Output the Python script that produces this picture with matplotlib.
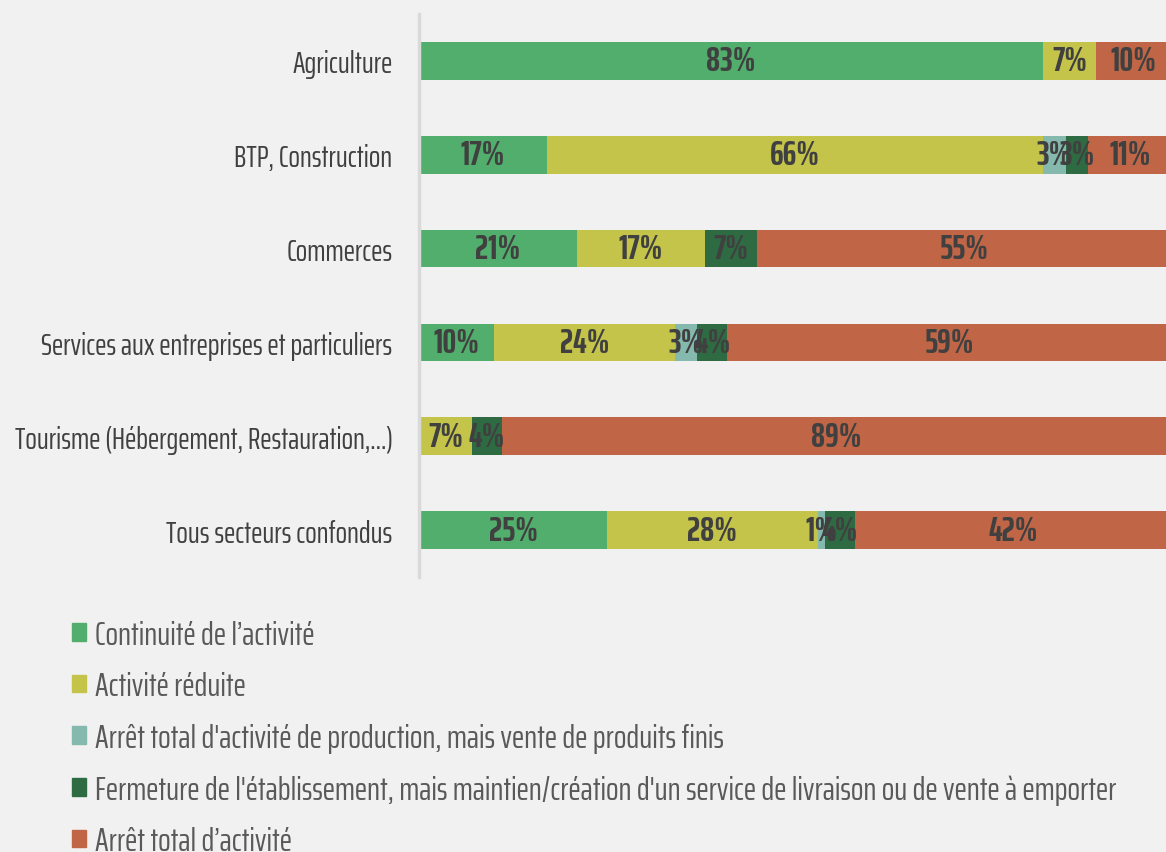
import matplotlib.pyplot as plt
from matplotlib.patches import Patch
from matplotlib import font_manager

# Data
sectors = ['Agriculture', 'BTP, Construction', 'Commerces',
           'Services aux entreprises et particuliers',
           'Tourisme (Hébergement, Restauration,...)',
           'Tous secteurs confondus']
continuite = [83, 17, 21, 10, 0, 25]
reduite = [7, 66, 17, 24, 7, 28]
arret_prod = [0, 3, 0, 3, 0, 1]
fermeture = [0, 3, 7, 4, 4, 4]
arret_total = [10, 11, 55, 59, 89, 42]

series_names = ["Continuité de l\u2019activité",
                "Activité réduite",
                "Arrêt total d'activité de production, mais vente de produits finis",
                "Fermeture de l'établissement, mais maintien/création d'un service de livraison ou de vente à emporter",
                "Arrêt total d\u2019activité"]
colors = ['#52ae6c', '#c5c44a', '#85b9ad', '#2e6b42', '#c06646']

names = {f.name for f in font_manager.fontManager.ttflist}
font = 'Saira ExtraCondensed' if 'Saira ExtraCondensed' in names else 'DejaVu Sans'
plt.rcParams['font.family'] = [font, 'DejaVu Sans']

bg = '#f1f1f1'
fig = plt.figure(figsize=(11.66, 8.53), dpi=100, facecolor=bg)
ax = fig.add_axes([419 / 1166, 1 - 578 / 853, 752 / 1166, 563 / 853])
ax.set_facecolor(bg)

series = [continuite, reduite, arret_prod, fermeture, arret_total]
ypos = list(range(len(sectors)))
left = [0] * len(sectors)
for vals, col in zip(series, colors):
    ax.barh(ypos, vals, left=left, color=col, height=0.4)
    for y, v, l in zip(ypos, vals, left):
        if v > 0:
            ax.text(l + v / 2, y, f'{v}%', ha='center', va='center',
                    fontsize=25, fontweight='bold', color='#404040')
    left = [l + v for l, v in zip(left, vals)]

ax.set_xlim(0, 100)
ax.set_ylim(len(sectors) - 0.5, -0.5)
ax.set_yticks(ypos)
ax.set_yticklabels(sectors, fontsize=22, color='#404040')
ax.tick_params(axis='y', length=0, pad=19)
ax.set_xticks([])
for s in ['top', 'right', 'bottom']:
    ax.spines[s].set_visible(False)
ax.spines['left'].set_color('#d9d9d9')
ax.spines['left'].set_linewidth(2.5)

handles = [Patch(color=c, label=n) for c, n in zip(colors, series_names)]
fig.legend(handles=handles, loc='upper left', bbox_to_anchor=(42 / 1166, 1 - 591 / 853),
           frameon=False, fontsize=24, labelcolor='#595959',
           handlelength=0.42, handleheight=0.42, handletextpad=0.27, labelspacing=0.645)

fig.savefig('out.png', dpi=100, facecolor=bg)
